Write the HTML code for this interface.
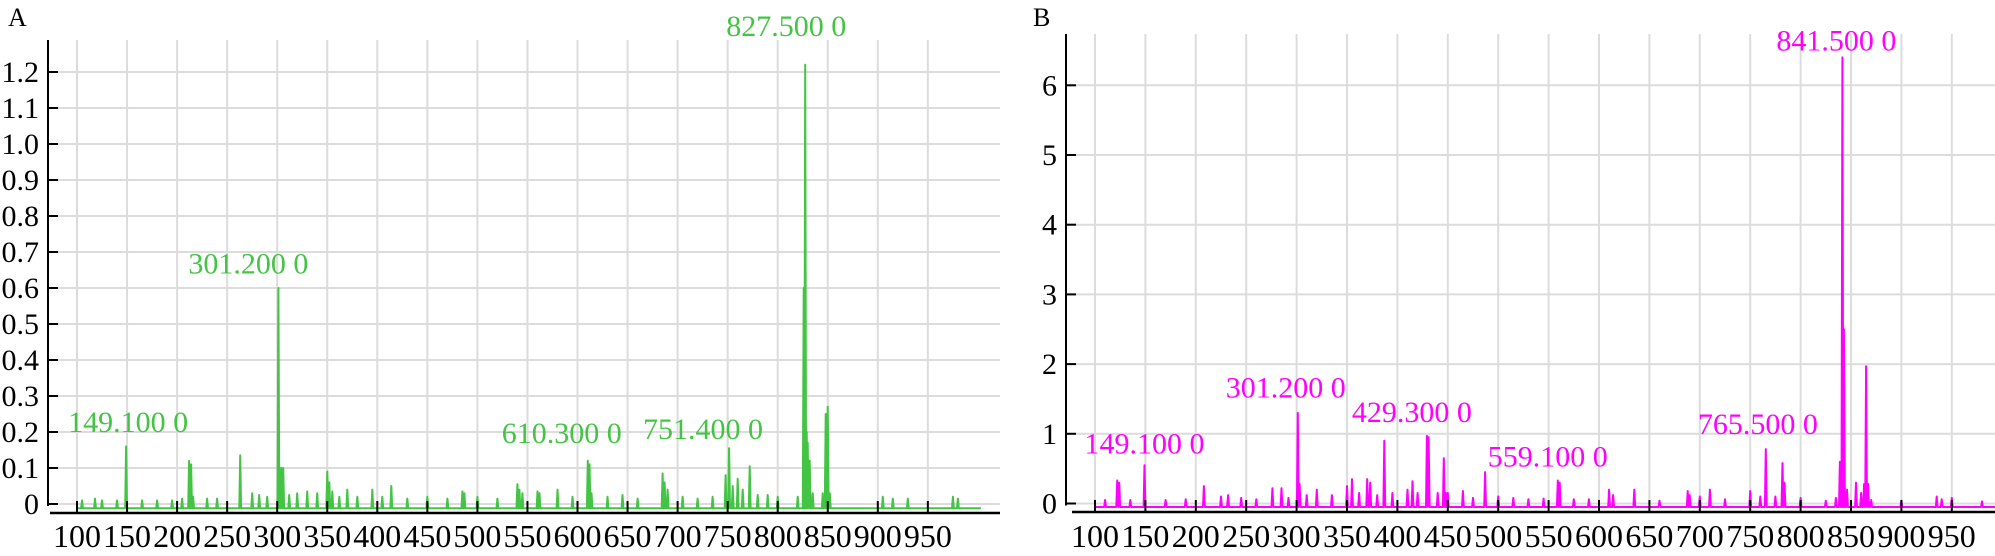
<!DOCTYPE html>
<html><head><meta charset="utf-8"><style>
html,body{margin:0;padding:0;background:#fff;}
svg{display:block;font-family:"Liberation Serif",serif;}
</style></head><body>
<svg id="chart" width="1995" height="556" viewBox="0 0 1995 556" xmlns="http://www.w3.org/2000/svg">
<g id="gA"></g>
<g id="gB"></g>
</svg>
<script>
// Panel A data (m/z, relative intensity)
const peaksA_mz  = [105,118,125,140,149.1,165,180,195,205,212,214,216,230,240,263,275,282,290,301.2,304,306,312,320,330,340,350,352,355,362,370,380,395,405,414,430,450,470,485,487,500,520,540,542,545,560,562,580,595,610.3,612,614,630,645,660,685,687,690,705,720,735,748,751.4,755,760,765,772,780,790,800,820,826,827.5,829,830,832,835,845,848,850,852,905,915,930,975,980];
const peaksA_int = [0.01,0.015,0.01,0.01,0.16,0.01,0.01,0.01,0.015,0.12,0.11,0.02,0.015,0.015,0.135,0.03,0.025,0.02,0.6,0.1,0.1,0.025,0.03,0.035,0.03,0.09,0.06,0.035,0.02,0.04,0.02,0.04,0.02,0.05,0.015,0.02,0.015,0.035,0.03,0.02,0.015,0.055,0.04,0.03,0.035,0.03,0.04,0.02,0.12,0.11,0.03,0.02,0.025,0.015,0.085,0.06,0.04,0.02,0.015,0.02,0.08,0.155,0.05,0.07,0.04,0.105,0.025,0.025,0.02,0.02,0.6,1.22,0.2,0.17,0.12,0.03,0.03,0.25,0.27,0.03,0.02,0.015,0.015,0.02,0.015];
const labelsA = ["149.100 0","301.200 0","610.300 0","751.400 0","827.500 0"];
const labelA_mz = [149.1,301.2,610.3,751.4,827.5];
const labelA_val = [0.2,0.64,0.17,0.18,1.3];
const ticksA_y = [0,0.1,0.2,0.3,0.4,0.5,0.6,0.7,0.8,0.9,1.0,1.1,1.2];
const ticksA_ylab = ["0","0.1","0.2","0.3","0.4","0.5","0.6","0.7","0.8","0.9","1.0","1.1","1.2"];
const ticksX = [100,150,200,250,300,350,400,450,500,550,600,650,700,750,800,850,900,950];

// Panel B data
const peaksB_mz  = [110,122,124,135,149.1,170,190,208,225,232,245,260,276,285,292,301.2,303,310,320,335,350,355,362,370,373,380,387,395,410,415,420,429.3,431,440,446,448,450,465,475,487,500,515,530,545,559.1,561,575,590,610,614,635,660,688,690,700,710,725,750,760,765.5,775,782,784,800,825,835,839,841.5,843,846,855,860,863,865,867,870,900,935,940,950,980];
const peaksB_int = [0.05,0.33,0.3,0.05,0.55,0.05,0.06,0.25,0.1,0.12,0.08,0.06,0.22,0.22,0.08,1.3,0.28,0.12,0.2,0.12,0.25,0.35,0.15,0.35,0.3,0.12,0.9,0.15,0.2,0.32,0.15,0.97,0.95,0.15,0.65,0.15,0.15,0.18,0.08,0.45,0.1,0.08,0.06,0.07,0.33,0.3,0.06,0.06,0.2,0.12,0.2,0.04,0.18,0.12,0.1,0.2,0.06,0.18,0.1,0.78,0.1,0.58,0.3,0.08,0.04,0.08,0.6,6.4,2.5,0.2,0.3,0.15,0.28,1.97,0.28,0.05,0.04,0.1,0.06,0.08,0.03];
const labelsB = ["149.100 0","301.200 0","429.300 0","559.100 0","765.500 0","841.500 0"];
const labelB_mz = [149.1,301.2,429.3,559.1,765.5,841.5];
const labelB_val = [0.72,1.52,1.17,0.53,1.0,6.5];
const ticksB_y = [0,1,2,3,4,5,6];
const ticksB_ylab = ["0","1","2","3","4","5","6"];

const NS="http://www.w3.org/2000/svg";
function mk(parent,tag,attrs,text){const e=document.createElementNS(NS,tag);for(const k in attrs)e.setAttribute(k,attrs[k]);if(text!==undefined)e.textContent=text;parent.appendChild(e);return e;}

function drawPanel(g,cfg){
  const {x,y,axisX,axisTop,xAxisY,xAxisStart,right,yTicks,yLabs,mzs,ints,labs,labMz,labVal,color,base,endMz,title,titleX,labelOffsets}=cfg;
  const t=mk(g,'text',{x:titleX,y:26,'font-size':26,fill:'#000'},title);
  
  
  // grid
  yTicks.forEach(v=>{
    const l=mk(g,'line',{x1:axisX,x2:right,y1:y(v),y2:y(v),stroke:'#dcdcdc','stroke-width':2});
    
    
  });
  ticksX.forEach(v=>{
    const l=mk(g,'line',{x1:x(v),x2:x(v),y1:axisTop,y2:y(0),stroke:'#dcdcdc','stroke-width':2});
    
    
  });
  // series
  const pts=[];
  pts.push([x(Math.min(100,mzs[0]-3)),y(base)]);
  for(let i=0;i<mzs.length;i++){
    pts.push([x(mzs[i]-0.9),y(base)]);
    pts.push([x(mzs[i]),y(ints[i])]);
    pts.push([x(mzs[i]+0.9),y(base)]);
  }
  pts.push([x(endMz),y(base)]);
  const p=mk(g,'polyline',{points:pts.map(q=>q[0].toFixed(1)+','+q[1].toFixed(1)).join(' '),fill:'none',stroke:color,'stroke-width':2,'stroke-linejoin':'round'});
  
  
  // axes
  const ya=mk(g,'line',{x1:axisX,x2:axisX,y1:axisTop,y2:y(0)+2,stroke:'#000','stroke-width':2});
  
  
  yTicks.forEach((v,i)=>{
    const tk=mk(g,'line',{x1:axisX,x2:axisX+10,y1:y(v),y2:y(v),stroke:'#000','stroke-width':2});
    
    
    const tl=mk(g,'text',{x:axisX-9,y:y(v)+10,'font-size':30,'text-anchor':'end',fill:'#000'},yLabs[i]);
    
    
  });
  const xa=mk(g,'line',{x1:xAxisStart,x2:right,y1:xAxisY,y2:xAxisY,stroke:'#000','stroke-width':2.5});
  
  
  ticksX.forEach(v=>{
    const tk=mk(g,'line',{x1:x(v),x2:x(v),y1:xAxisY-12,y2:xAxisY,stroke:'#000','stroke-width':2});
    
    
    const tl=mk(g,'text',{x:x(v),y:547,'font-size':32,'text-anchor':'middle',fill:'#000',textLength:48,lengthAdjust:'spacingAndGlyphs'},String(v));
    
    
  });
  labs.forEach((s,i)=>{
    const tl=mk(g,'text',{x:x(labMz[i])+labelOffsets[i],y:y(labVal[i]),'font-size':30,fill:color},s);
    
    
  });
}

drawPanel(document.getElementById('gA'),{
  x:v=>77+(v-100)*1.001, y:v=>504-v*360,
  axisX:48, axisTop:40, xAxisY:513, xAxisStart:50, right:1000,
  yTicks:ticksA_y, yLabs:ticksA_ylab, mzs:peaksA_mz, ints:peaksA_int,
  labs:labelsA, labMz:labelA_mz, labVal:labelA_val, color:'#44c444', base:-0.012, endMz:1003,
  title:'A', titleX:8, labelOffsets:[-58,-90,-86,-86,-79]
});
drawPanel(document.getElementById('gB'),{
  x:v=>1095+(v-100)*1.008, y:v=>503.5-v*69.7,
  axisX:1066, axisTop:34, xAxisY:512, xAxisStart:1072, right:1995,
  yTicks:ticksB_y, yLabs:ticksB_ylab, mzs:peaksB_mz, ints:peaksB_int,
  labs:labelsB, labMz:labelB_mz, labVal:labelB_val, color:'#ff00ff', base:-0.05, endMz:1000,
  title:'B', titleX:1033, labelOffsets:[-60,-72,-75,-70,-68,-66]
});
</script>
</body></html>
